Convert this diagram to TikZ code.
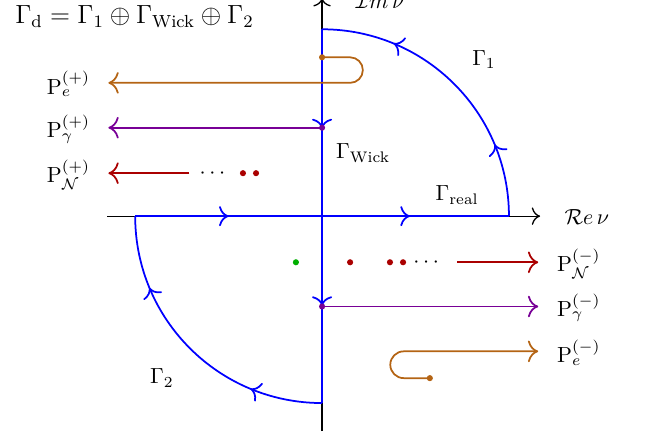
\documentclass[tikz,border=0pt]{standalone}
\usepackage{amsmath,amssymb}
\usetikzlibrary{arrows.meta,decorations.markings,calc}

\definecolor{elecol}{RGB}{180,100,20}
\definecolor{phocol}{RGB}{120,0,150}
\definecolor{nuccol}{RGB}{170,0,0}
\definecolor{grncol}{RGB}{0,175,0}

\begin{document}
\begin{tikzpicture}[>={To[scale=1.3]},
  axis/.style={semithick, ->},
  contour/.style={blue, thick},
  onearrow/.style={postaction={decorate}, decoration={markings, mark=at position #1 with {\arrow{>}}}},
  twoarrows/.style 2 args={postaction={decorate}, decoration={markings,
      mark=at position #1 with {\arrow{>}}, mark=at position #2 with {\arrow{>}}}},
  poleline/.style={thick, -{To[scale=1.4]}},
  poledot/.style={circle, inner sep=0pt, minimum size=2.8pt},
  lab/.style={inner sep=1pt}]
  \useasboundingbox (-5.17,-3.6) rectangle (5.2,3.47);
  % axes
  \coordinate (xl) at (-3.45,0); \coordinate (xr) at (3.5,0);
  \coordinate (yb) at (0,-3.45); \coordinate (yt) at (0,3.5);
  \draw[axis](xl)--(xr);
  \draw[axis](yb)--(yt);
  \node[lab] (re) at (4.25,-0.02) {$\mathcal{R}e\,\nu$};
  \node[lab] (im) at (0.93,3.45) {$\mathcal{I}m\,\nu$};
  % contour
  \coordinate (O) at (0,0);
  \coordinate (A) at (3,0); \coordinate (B) at (0,3);
  \coordinate (C) at (0,-3); \coordinate (D) at (-3,0);
  \draw[contour, onearrow=0.5](D)--(O);
  \draw[contour, onearrow=0.47](O)--(A);
  \draw[contour, twoarrows={0.25}{0.75}](A) arc[start angle=0, end angle=90, radius=3];
  \draw[contour, twoarrows={0.265}{0.74}](B)--(C);
  \draw[contour, twoarrows={0.25}{0.75}](C) arc[start angle=270, end angle=180, radius=3];
  \node[lab] (g1) at (2.6,2.52) {$\Gamma_1$};
  \node[lab] (gw) at (0.66,1.01) {$\Gamma_{\text{Wick}}$};
  \node[lab] (gr) at (2.17,0.34) {$\Gamma_{\text{real}}$};
  \node[lab] (g2) at (-2.57,-2.6) {$\Gamma_2$};
  \node[anchor=west, inner sep=0pt, font=\large] (gd) at (-4.93,3.2) {$\Gamma_{\text{d}}=\Gamma_1\oplus\Gamma_{\text{Wick}}\oplus\Gamma_2$};
  % poles in the upper half plane
  \node[poledot, fill=elecol] (ep) at (0,2.55) {};
  \coordinate (epend) at (-3.43,2.14);
  \draw[poleline, elecol](ep.center)--++(0.45,0) arc[start angle=90, end angle=-90, radius=0.205]--(epend);
  \node[anchor=east] (Pep) at (-3.6,2.12) {$\mathrm{P}_e^{(+)}$};
  \node[poledot, fill=phocol] (gp) at (0,1.42) {};
  \coordinate (gpend) at (-3.43,1.42);
  \draw[poleline, phocol](gp.center)--(gpend);
  \node[anchor=east] (Pgp) at (-3.6,1.40) {$\mathrm{P}_\gamma^{(+)}$};
  \node[poledot, fill=nuccol] (np1) at (-1.06,0.69) {};
  \node[poledot, fill=nuccol] (np2) at (-1.27,0.69) {};
  \node[lab] (npdots) at (-1.73,0.69) {$\cdots$};
  \coordinate (npstart) at (-2.13,0.69);
  \coordinate (npend) at (-3.43,0.69);
  \draw[poleline, nuccol](npstart)--(npend);
  \node[anchor=east] (Pnp) at (-3.6,0.67) {$\mathrm{P}_{\mathcal{N}}^{(+)}$};
  % poles in the lower half plane
  \node[poledot, fill=grncol] (gn) at (-0.42,-0.74) {};
  \node[poledot, fill=nuccol] (nm1) at (0.45,-0.74) {};
  \node[poledot, fill=nuccol] (nm2) at (1.09,-0.74) {};
  \node[poledot, fill=nuccol] (nm3) at (1.3,-0.74) {};
  \node[lab] (nmdots) at (1.70,-0.74) {$\cdots$};
  \coordinate (nmstart) at (2.17,-0.74);
  \coordinate (nmend) at (3.47,-0.74);
  \draw[poleline, nuccol](nmstart)--(nmend);
  \node[anchor=west] (Pnm) at (3.65,-0.76) {$\mathrm{P}_{\mathcal{N}}^{(-)}$};
  \node[poledot, fill=phocol] (gm) at (0,-1.45) {};
  \coordinate (gmend) at (3.47,-1.45);
  \draw[poleline, phocol](gm.center)--(gmend);
  \node[anchor=west] (Pgm) at (3.65,-1.47) {$\mathrm{P}_\gamma^{(-)}$};
  \node[poledot, fill=elecol] (em) at (1.73,-2.6) {};
  \coordinate (emend) at (3.47,-2.17);
  \draw[poleline, elecol](em.center)--++(-0.42,0) arc[start angle=270, end angle=90, radius=0.215]--(emend);
  \node[anchor=west] (Pem) at (3.65,-2.19) {$\mathrm{P}_e^{(-)}$};
\end{tikzpicture}
\end{document}
